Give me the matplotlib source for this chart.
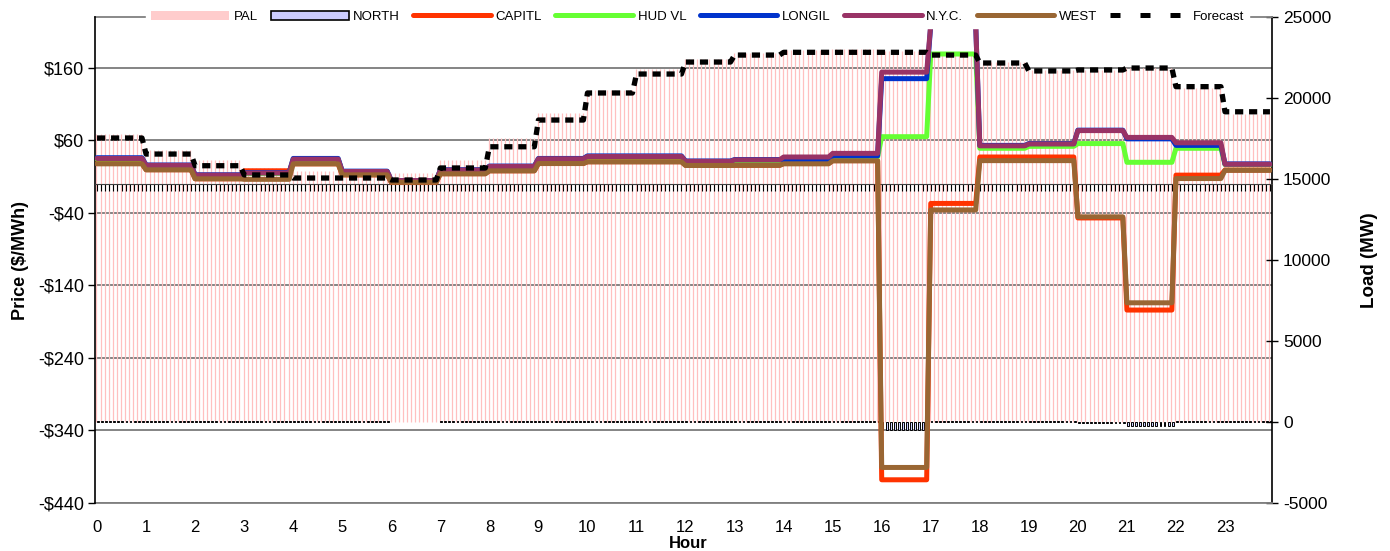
import matplotlib
matplotlib.use("Agg")
import matplotlib.pyplot as plt
import numpy as np
from matplotlib.lines import Line2D
from matplotlib.patches import Patch

plt.rcParams['font.family'] = ['Liberation Sans', 'DejaVu Sans']

# hourly values, each hour is held over twelve 5-minute intervals
hours = [str(h) for h in range(24)]
STEPS = 12

pal_load = [17800, 16800, 16200, 15700, 15500, 15400, 15400, 16150, 17550, 19050,
            20500, 21800, 22400, 22800, 22950, 23000, 22900, 22700, 22200, 21700,
            21750, 21850, 20600, 19000]
north_load = [80, 70, 70, 70, 80, 70, np.nan, 70, 70, 70, 70, 70,
              70, 70, 70, 70, -500, 70, 80, 70, -40, -260, 70, 70]
forecast = [17530, 16540, 15820, 15250, 15060, 15060, 14940, 15680, 16990, 18640,
            20310, 21480, 22220, 22650, 22820, 22820, 22820, 22650, 22160, 21670,
            21730, 21850, 20700, 19150]

capitl = [28, 19.5, 7, 18, 27.6, 12.4, 2, 14, 18, 28, 30.5, 30.5,
          25.5, 25.5, 28, 32, -408, -27, 37, 37, -47, -174, 12, 19]
hud_vl = [34, 25, 11, 14.5, 33.5, 16.5, 3.5, 18.5, 23.5, 34, 37, 37,
          30.5, 32, 33, 37, 65, 179, 49, 51.7, 55.5, 29.7, 49, 26.5]
longil = [36, 26, 12.5, 15.5, 35, 17.5, 4.5, 19.5, 24.5, 35, 38.5, 38.5,
          31.5, 33.5, 33, 38.5, 145, 219, 53, 55.5, 74, 62, 53, 27.5]
nyc = [35, 25.5, 12, 15, 34, 17, 4.5, 19, 24, 34.5, 37.7, 37.7,
       31, 33, 37, 42, 154, 220, 52.4, 55, 73.4, 64, 56.6, 27]
west = [27.6, 19.3, 6.9, 6.2, 27.6, 12.4, 2.1, 13.8, 17.9, 28, 30.3, 30.3,
        25.3, 25.5, 27.6, 31.7, -391, -36, 32, 32, -45.5, -164, 7.3, 18.6]

price_ticks = [-440, -340, -240, -140, -40, 60, 160]
price_labels = ['-$440', '-$340', '-$240', '-$140', '-$40', '$60', '$160']
load_ticks = [-5000, 0, 5000, 10000, 15000, 20000, 25000]

zones = [('CAPITL', capitl, '#FF3300'),
         ('HUD VL', hud_vl, '#66FF33'),
         ('LONGIL', longil, '#0033CC'),
         ('N.Y.C.', nyc, '#993366'),
         ('WEST', west, '#996633')]

x = np.arange(24 * STEPS)

def per_interval(vals):
    return np.repeat(np.asarray(vals, dtype=float), STEPS)

fig = plt.figure(figsize=(13.9, 5.51), dpi=100)
ax_load = fig.add_axes([95 / 1390, 48 / 551, 1177 / 1390, 486 / 551])
ax_price = ax_load.twinx()
ax_price.patch.set_visible(False)
ax_price.xaxis.set_visible(True)

# price axis on the left, load axis on the right
ax_price.yaxis.tick_left()
ax_price.yaxis.set_label_position('left')
ax_load.yaxis.tick_right()
ax_load.yaxis.set_label_position('right')

# horizontal gridlines at the price ticks, kept under the bars
ax_load.hlines(price_ticks, -0.5, 287.5, colors='#707070', lw=1.2,
               transform=ax_price.transData, zorder=0.5)

# thin columns: one per 5-minute interval
ax_load.vlines(x - 0.15, 0, per_interval(pal_load), colors='#FFC0C0',
               lw=0.9, zorder=1, snap=True)
ax_load.bar(x + 0.2, per_interval(north_load), width=0.45,
            color='#CCCCFF', edgecolor='black', lw=0.7, zorder=1.2)

line_handles = []
for name, vals, col in zones:
    ln, = ax_price.plot(x, per_interval(vals), color=col, lw=3.6,
                        solid_joinstyle='round', solid_capstyle='round',
                        label=name, zorder=3)
    line_handles.append(ln)

ax_price.plot(x, per_interval(forecast), color='black', lw=3.8,
              linestyle=(0, (1.55, 1.1)), transform=ax_load.transData,
              zorder=4)

ax_price.set_ylim(-440, 230)
ax_load.set_ylim(-5000, 25000)
ax_load.set_xlim(-0.5, 287.5)

ax_price.set_yticks(price_ticks, price_labels)
ax_load.set_yticks(load_ticks, [str(v) for v in load_ticks])
ax_load.set_xticks(np.arange(0, 24 * STEPS, STEPS), hours)
ax_load.set_xticks(x, minor=True)

# category axis crosses the price axis at zero, labels sit at the bottom
ax_price.spines['bottom'].set_position(('data', 0))
ax_price.spines['bottom'].set_color('#404040')
ax_price.spines['bottom'].set_linewidth(0.8)
ax_price.spines['top'].set_visible(False)
ax_price.spines['right'].set_visible(False)
ax_price.spines['left'].set_color('black')
ax_price.spines['left'].set_linewidth(1.2)
ax_price.tick_params(axis='x', which='both', direction='out', length=5,
                     width=0.8, color='black', labelbottom=False)
ax_price.tick_params(axis='y', direction='out', length=5, width=1,
                     labelsize=13, pad=3)

for side in ('top', 'bottom'):
    ax_load.spines[side].set_color('#808080')
    ax_load.spines[side].set_linewidth(1.3)
ax_load.spines['left'].set_visible(False)
ax_load.spines['right'].set_color('black')
ax_load.spines['right'].set_linewidth(1.2)
ax_load.tick_params(axis='x', which='both', length=0, labelsize=12, pad=12)
ax_load.tick_params(axis='y', direction='inout', length=8, width=1,
                    labelsize=12.5, pad=4)

ax_price.set_ylabel('Price ($/MWh)', fontsize=13, fontweight='bold')
ax_price.yaxis.set_label_coords(-0.056, 0.5)
ax_load.set_ylabel('Load (MW)', fontsize=13.5, fontweight='bold', rotation=90)
ax_load.yaxis.set_label_coords(1.0755, 0.5)
ax_load.set_xlabel('Hour', fontsize=12, fontweight='bold')
ax_load.xaxis.set_label_coords(0.504, -0.068)

pal_handle = Patch(facecolor='#FFCCCC', edgecolor='none')
north_handle = Patch(facecolor='#CCCCFF', edgecolor='black', lw=1.2)
fc_handle = Line2D([], [], color='black', lw=3.6, linestyle=(0, (2, 4)))
handles = [pal_handle, north_handle] + line_handles + [fc_handle]
labels = ['PAL', 'NORTH'] + [z[0] for z in zones] + ['Forecast']
ax_price.legend(handles, labels, loc='center', bbox_to_anchor=(0.512, 1.0),
                ncol=8, fontsize=9.5, frameon=True, fancybox=False,
                framealpha=1, facecolor='white', edgecolor='white',
                handlelength=5.9, handletextpad=0.35, columnspacing=1.0,
                borderpad=0.35, borderaxespad=0)

fig.savefig('out.png', dpi=100)
